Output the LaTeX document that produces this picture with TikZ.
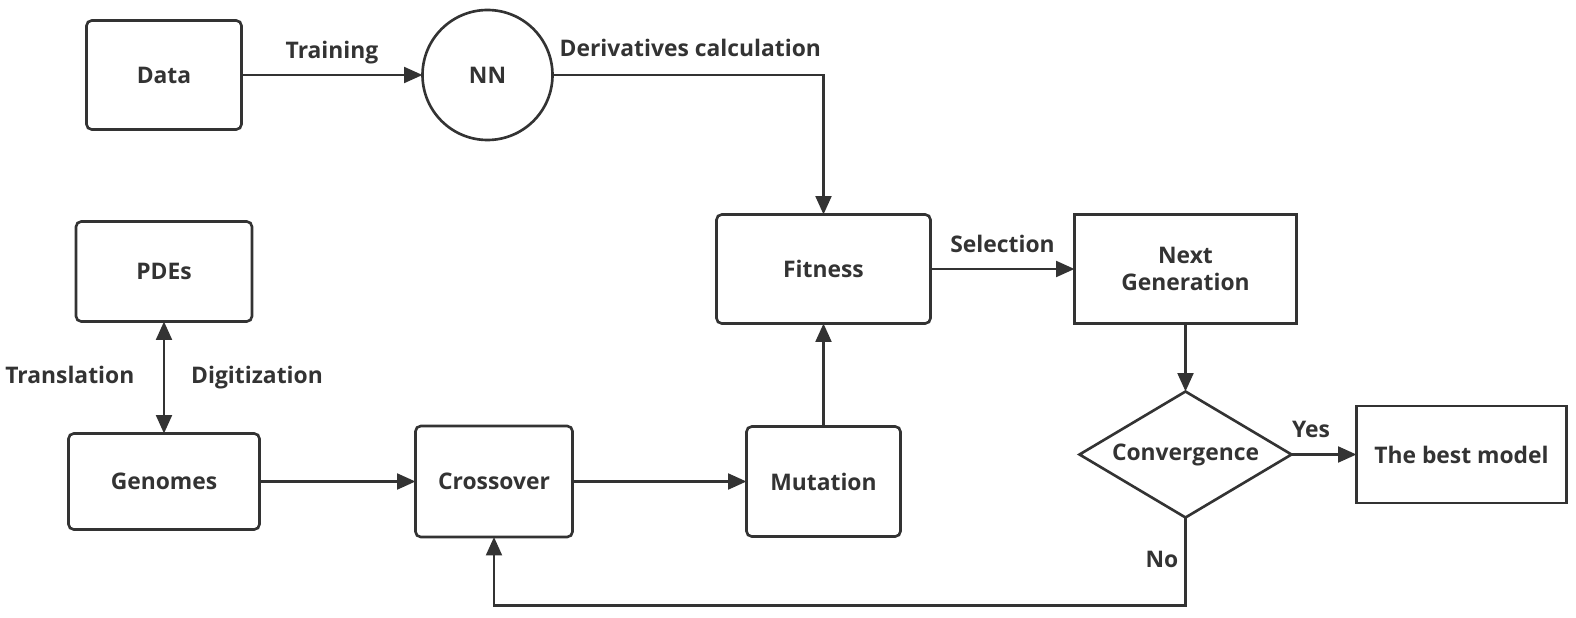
\documentclass[tikz,border=0pt]{standalone}
\usepackage{fontspec}
\setmainfont{Open Sans}
\usepackage{tikz}
\usetikzlibrary{shapes.geometric, arrows.meta, positioning, calc}
\definecolor{ink}{HTML}{333333}

\begin{document}
\begin{tikzpicture}[node distance=2cm, auto, >={Triangle[length=10.5pt,width=9pt]}, font=\fontsize{13}{15.5}\selectfont\bfseries, color=ink]
        \tikzstyle{block} = [rectangle, draw=ink, rounded corners=3pt, text centered, line width=1.5pt, outer sep=0pt]
        \tikzstyle{plainblock} = [rectangle, draw=ink, text centered, align=center, line width=1.5pt, outer sep=0pt]
        \tikzstyle{neuron} = [circle, draw=ink, minimum size=2.6cm, line width=1.5pt, outer sep=0pt]
        \tikzstyle{decision} = [diamond, draw=ink, aspect=1.68, minimum width=4.24cm, minimum height=2.52cm, inner sep=0pt, line width=1.5pt, outer sep=0pt]
        \tikzstyle{link} = [draw, ->, line width=1.5pt, color=ink]
        \tikzstyle{tag} = [text height=1.6ex, text depth=0.4ex]

        \useasboundingbox (0,0) rectangle (31.52,-12.36);

        \node [block, minimum width=3.1cm, minimum height=2.18cm] (data) at (3.28,-1.5) {Data};
        \node [neuron, right=3.62cm of data] (nn) {NN};
        \node [block, minimum width=3.52cm, minimum height=2cm, below=1.84cm of data] (pdes) {PDEs};
        \node [block, minimum width=3.82cm, minimum height=1.92cm, below=2.24cm of pdes] (genomes) {Genomes};
        \node [block, minimum width=3.14cm, minimum height=2.22cm, right=3.12cm of genomes] (cross) {Crossover};
        \node [block, minimum width=3.08cm, minimum height=2.2cm, right=3.48cm of cross] (mutation) {Mutation};
        \node [block, minimum width=4.28cm, minimum height=2.18cm, above=2.06cm of mutation] (fitness) {Fitness};
        \node [plainblock, minimum width=4.44cm, minimum height=2.18cm, right=2.88cm of fitness] (nextgen) {Next\\Generation};
        \node [decision, below=1.36cm of nextgen] (conv) {Convergence};
        \node [plainblock, minimum width=4.2cm, minimum height=1.94cm, right=1.3cm of conv] (best) {The best model};

        \path [link] (data) -- node [tag, above=0.12cm] {Training} (nn);
        \path [link] (nn.east) -| node [tag, pos=0, anchor=south west, yshift=0.16cm] {Derivatives calculation} (fitness.north);
        \path [link, <->] (pdes) -- node [tag, midway, left=0.45cm] {Translation} node [tag, midway, right=0.4cm] {Digitization} (genomes);
        \path [link] (genomes) -- (cross);
        \path [link] (cross) -- (mutation);
        \path [link] (mutation) -- (fitness);
        \path [link] (fitness) -- node [tag, above=0.12cm] {Selection} (nextgen);
        \path [link] (nextgen) -- (conv);
        \path [link] (conv) -- node [tag, pos=0.3, above=0.12cm] {Yes} (best);
        \path [link] (conv.south) -- ++(0,-1.76) node [tag, midway, left] {No} -| (cross.south);
    \end{tikzpicture}
\end{document}
